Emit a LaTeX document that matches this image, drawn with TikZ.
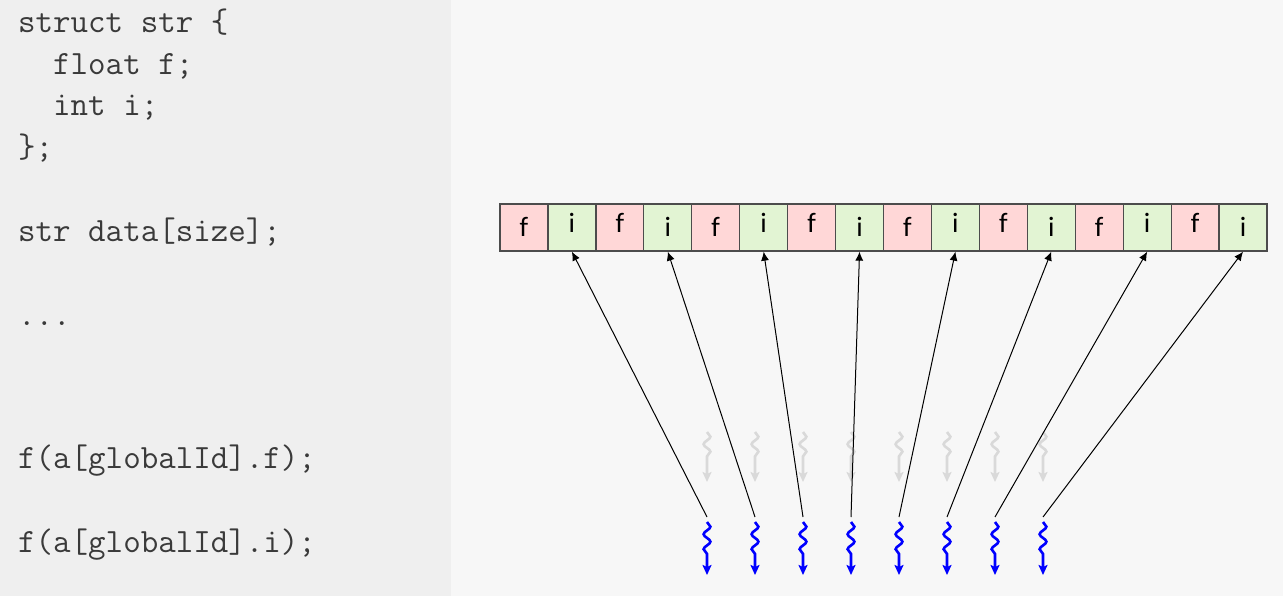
\documentclass[tikz,border=0pt]{standalone}
\usepackage{fontspec}
\newfontfamily\cellfont{Carlito}
\usepackage{tikz}
\usetikzlibrary{arrows.meta,calc,decorations.pathmorphing,positioning}
\definecolor{leftbg}{HTML}{EFEFEF}
\definecolor{rightbg}{HTML}{F7F7F7}
\definecolor{codegray}{HTML}{3A3A3A}
\definecolor{cellf}{HTML}{FFD7D7}
\definecolor{celli}{HTML}{E2F4D3}
\definecolor{idlegray}{HTML}{D9D9D9}
\tikzset{%
	codeline/.style = {anchor=base west, inner sep=0pt, text=codegray, font=\fontsize{34}{36}\ttfamily},
	cell/.style     = {draw=black!70, line width=1.3pt, minimum width=47.94pt, minimum height=47pt, inner sep=0pt, text height=19pt, text depth=0pt, font=\fontsize{28}{30}\cellfont},
	access/.style   = {line width=1pt, -{Latex[length=9pt,width=8pt]}},
	thread/.style   = {line width=2.6pt, decorate, decoration={snake, amplitude=3.4pt, segment length=15pt, post length=20pt}, -{Stealth[length=10pt,width=9pt,inset=2pt]}},
}

\begin{document}
\begin{tikzpicture}[x=1pt,y=-1pt]
		\useasboundingbox (0,0) rectangle (1283,596);
		\fill[rightbg] (0,0) rectangle (1283,596);
		\fill[leftbg] (0,0) rectangle (451,596);
		
		% code panel
		\node[codeline] (l1) at (18,33) {struct str \{};
		\node[codeline] (l2) at (18,75) {\ \ float f;};
		\node[codeline] (l3) at (18,116) {\ \ int i;};
		\node[codeline] (l4) at (18,158) {\};};
		\node[codeline] (l5) at (18,242) {str data[size];};
		\node[codeline] (l6) at (18,325) {...};
		\node[codeline] (l7) at (18,468) {f(a[globalId].f);};
		\node[codeline] (l8) at (18,552) {f(a[globalId].i);};
		
		% array of structs
		\foreach \k [evaluate=\k as \xc using 500+(\k-0.5)*47.94, evaluate=\k as \m using {int(mod(\k,4))}] in {1,...,16} {
			\pgfmathsetmacro{\lift}{(\m==2 || \m==3) ? 4 : 0}
			\ifodd\k
				\node[cell, fill=cellf] (c\k) at (\xc,227.5) {\raisebox{\lift pt}{f}};
			\else
				\node[cell, fill=celli] (c\k) at (\xc,227.5) {\raisebox{\lift pt}{i}};
			\fi
		}
		
		% idle threads
		\foreach \k [evaluate=\k as \xt using 707+(\k-1)*48] in {1,...,8}
			\draw[thread, idlegray] (\xt,432) -- (\xt,482);
		
		% active threads
		\foreach \k [evaluate=\k as \xt using 707+(\k-1)*48, evaluate=\k as \j using {int(2*\k)}] in {1,...,8} {
			\coordinate (t\k) at (\xt,517);
			\draw[thread, blue] (\xt,522) -- (\xt,575);
			\draw[access] (t\k) -- (c\j.south);
		}
	\end{tikzpicture}
\end{document}
